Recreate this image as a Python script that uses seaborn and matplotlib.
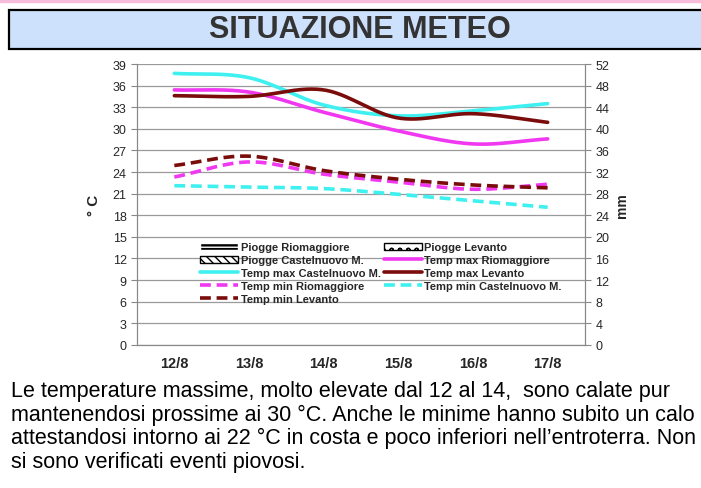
import numpy as np
import pandas as pd
import seaborn as sns
import matplotlib.pyplot as plt
from matplotlib.patches import Rectangle, Patch
from matplotlib.lines import Line2D

# dati
giorni = ['12/8', '13/8', '14/8', '15/8', '16/8', '17/8']
piogge_riomaggiore = [0, 0, 0, 0, 0, 0]
piogge_levanto = [0, 0, 0, 0, 0, 0]
piogge_castelnuovo = [0, 0, 0, 0, 0, 0]
tmax_riomaggiore = [35.4, 35.1, 32.3, 29.7, 27.9, 28.6]
tmax_castelnuovo = [37.7, 37.1, 33.3, 31.8, 32.5, 33.5]
tmax_levanto = [34.6, 34.5, 35.4, 31.5, 32.1, 30.9]
tmin_riomaggiore = [23.3, 25.4, 23.7, 22.6, 21.6, 22.3]
tmin_castelnuovo = [22.1, 21.9, 21.7, 20.9, 20.0, 19.1]
tmin_levanto = [24.9, 26.2, 24.2, 23.0, 22.2, 21.8]

CIANO = '#3ff0f0'
MAGENTA = '#f038f0'
BORDEAUX = '#7a0c0c'
LW = 2.6
TRATTEGGIO = (0, (3, 1.6))

sns.set_style('white')
plt.rcParams['font.family'] = ['Liberation Sans', 'DejaVu Sans']


def smussa(valori, n=30):
    # linea smussata tipo Excel (Catmull-Rom) passante per i valori
    p = np.array(valori, dtype=float)
    p = np.concatenate([[2 * p[0] - p[1]], p, [2 * p[-1] - p[-2]]])
    xs, ys = [], []
    for i in range(1, len(p) - 2):
        t = np.linspace(0, 1, n, endpoint=False)
        p0, p1, p2, p3 = p[i - 1], p[i], p[i + 1], p[i + 2]
        y = 0.5 * (2 * p1 + (-p0 + p2) * t + (2 * p0 - 5 * p1 + 4 * p2 - p3) * t ** 2
                   + (-p0 + 3 * p1 - 3 * p2 + p3) * t ** 3)
        xs.extend(i - 1 + t)
        ys.extend(y)
    xs.append(len(valori) - 1)
    ys.append(valori[-1])
    return pd.DataFrame({'x': xs, 'y': ys})


fig = plt.figure(figsize=(7.01, 4.89), dpi=100)

# fascia rosa in alto e riquadro del titolo
fig.patches.append(Rectangle((0, 1 - 3 / 489), 1, 3 / 489, transform=fig.transFigure,
                             color='#f6bcd9', zorder=0))
fig.patches.append(Rectangle((9 / 701, 1 - 50 / 489), 700 / 701, 39 / 489, transform=fig.transFigure,
                             facecolor='#cde0fc', edgecolor='black', linewidth=1.6, zorder=1))
fig.text(360 / 701, 1 - 30 / 489, 'SITUAZIONE METEO', ha='center', va='center',
         fontsize=22, fontweight='bold', color='#333333')

ax = fig.add_axes([137 / 701, 1 - 345.8 / 489, 448 / 701, 280.8 / 489])
ax2 = ax.twinx()

serie = [
    (tmax_riomaggiore, MAGENTA, '-'),
    (tmax_castelnuovo, CIANO, '-'),
    (tmax_levanto, BORDEAUX, '-'),
    (tmin_riomaggiore, MAGENTA, TRATTEGGIO),
    (tmin_castelnuovo, CIANO, TRATTEGGIO),
    (tmin_levanto, BORDEAUX, TRATTEGGIO),
]
for valori, colore, stile in serie:
    d = smussa(valori)
    sns.lineplot(data=d, x='x', y='y', ax=ax, color=colore, linewidth=LW,
                 linestyle=stile, sort=False, estimator=None)

ax.set_ylim(0, 39)
ax.set_yticks(np.arange(0, 40, 3))
ax.set_xlim(-0.5, 5.5)
ax.set_xticks(range(len(giorni)))
ax.set_xticklabels(giorni, fontweight='bold', fontsize=10.5)
ax.set_xticks(np.arange(-0.5, 6, 1), minor=True)
ax.tick_params(axis='x', which='major', length=0, pad=8)
ax.tick_params(axis='x', which='minor', length=4, color='#888888', direction='out')
ax.tick_params(axis='y', labelsize=9, length=4, color='#888888', direction='out', left=True)
ax.set_ylabel('° C', fontweight='bold', fontsize=11, labelpad=8)
ax.set_xlabel('')
ax.grid(axis='y', color='#9a9a9a', linewidth=0.9)
ax.set_axisbelow(True)

ax2.set_ylim(0, 52)
ax2.set_yticks(np.arange(0, 53, 4))
ax2.tick_params(axis='y', labelsize=9, length=4, color='#888888', direction='out', right=True)
ax2.set_ylabel('mm', fontweight='bold', fontsize=10, labelpad=4)

for a in (ax, ax2):
    for s in a.spines.values():
        s.set_visible(False)
    for lato in ('left', 'right', 'bottom'):
        a.spines[lato].set_visible(True)
        a.spines[lato].set_color('#888888')

# legenda
h = {
    'Piogge Riomaggiore': Patch(facecolor='black', edgecolor='white', hatch='---'),
    'Piogge Levanto': Patch(facecolor='white', edgecolor='black', hatch='oo'),
    'Piogge Castelnuovo M.': Patch(facecolor='white', edgecolor='black', hatch='\\\\\\\\'),
    'Temp max Riomaggiore': Line2D([], [], color=MAGENTA, lw=LW),
    'Temp max Castelnuovo M.': Line2D([], [], color=CIANO, lw=LW),
    'Temp max Levanto': Line2D([], [], color=BORDEAUX, lw=LW),
    'Temp min Riomaggiore': Line2D([], [], color=MAGENTA, lw=LW, ls=TRATTEGGIO),
    'Temp min Castelnuovo M.': Line2D([], [], color=CIANO, lw=LW, ls=TRATTEGGIO),
    'Temp min Levanto': Line2D([], [], color=BORDEAUX, lw=LW, ls=TRATTEGGIO),
}
ordine = ['Piogge Riomaggiore', 'Piogge Castelnuovo M.', 'Temp max Castelnuovo M.',
          'Temp min Riomaggiore', 'Temp min Levanto',
          'Piogge Levanto', 'Temp max Riomaggiore', 'Temp max Levanto', 'Temp min Castelnuovo M.']
leg = ax2.legend([h[k] for k in ordine], ordine, ncol=2, frameon=False,
                 loc='upper left', bbox_to_anchor=(200 / 701, 1 - 243 / 489),
                 bbox_transform=fig.transFigure, prop={'weight': 'bold', 'size': 8},
                 handlelength=3.4, handletextpad=0.25, labelspacing=0.27,
                 columnspacing=0.3, borderpad=0, borderaxespad=0, handleheight=0.6)

# testo sotto il grafico
testo = ['Le temperature massime, molto elevate dal 12 al 14,  sono calate pur',
         'mantenendosi prossime ai 30 °C. Anche le minime hanno subito un calo',
         'attestandosi intorno ai 22 °C in costa e poco inferiori nell\u2019entroterra. Non',
         'si sono verificati eventi piovosi.']
for i, riga in enumerate(testo):
    fig.text(11 / 701, 1 - (392 + i * 23.4) / 489, riga, fontsize=15.5,
             va='center', ha='left', color='black')

plt.savefig('out.png', dpi=100)
